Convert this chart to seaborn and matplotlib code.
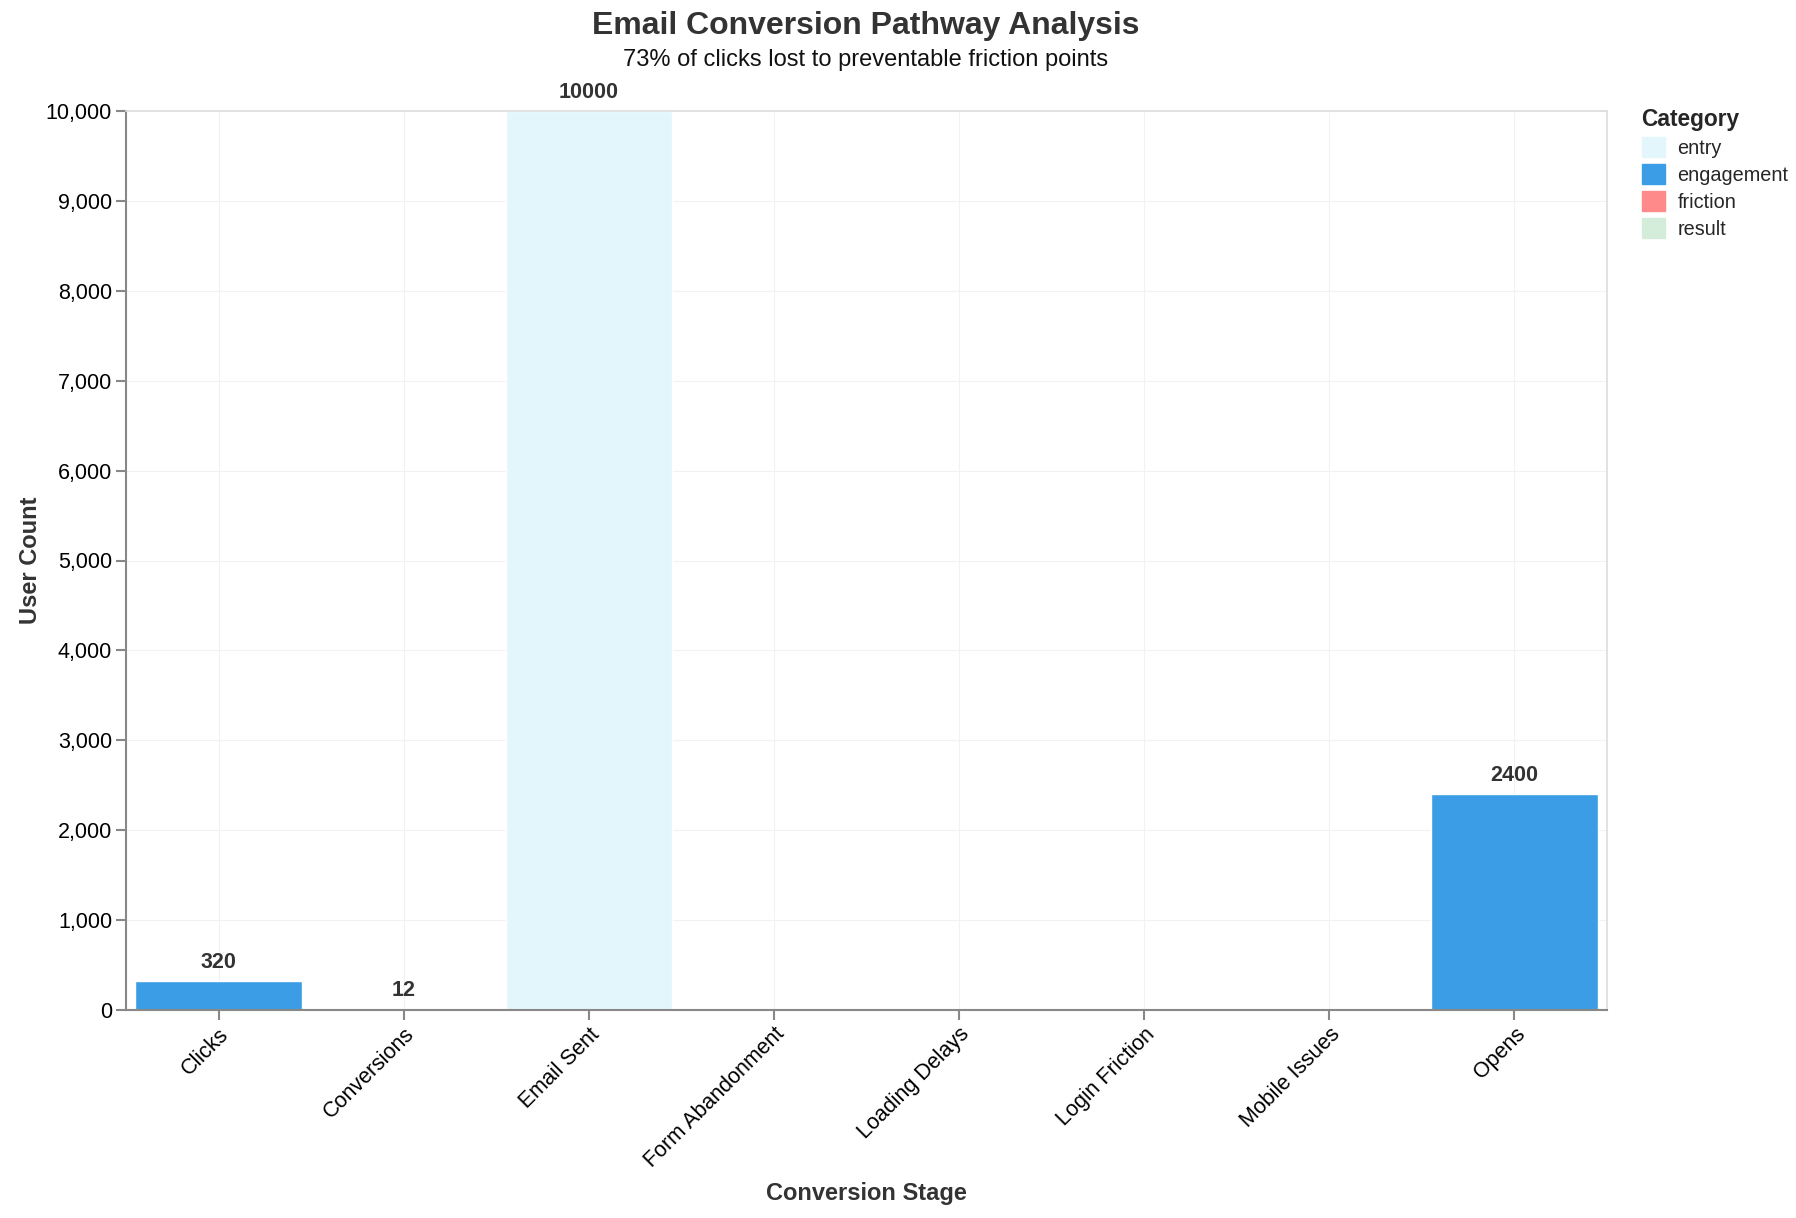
import pandas as pd
import matplotlib.pyplot as plt
import matplotlib.patches as mpatches
import seaborn as sns

# Data
stages = ["Clicks", "Conversions", "Email Sent", "Form Abandonment",
          "Loading Delays", "Login Friction", "Mobile Issues", "Opens"]
counts = [320, 12, 10000, 0, 0, 0, 0, 2400]
categories = ["engagement", "result", "entry", "friction",
              "friction", "friction", "friction", "engagement"]
show_label = [True, True, True, False, False, False, False, True]

category_order = ["entry", "engagement", "friction", "result"]
category_colors = {
    "entry": "#E3F6FC",
    "engagement": "#3B9DE6",
    "friction": "#FF8A8A",
    "result": "#D4EDDA",
}

df = pd.DataFrame({"stage": stages, "count": counts, "category": categories})

sns.set_theme(style="white")
plt.rcParams['font.family'] = ['Liberation Sans', 'DejaVu Sans']

fig = plt.figure(figsize=(17.96, 12.18), dpi=100)
ax = fig.add_axes([126 / 1796, 1 - 1010 / 1218, (1607 - 126) / 1796, (1010 - 111) / 1218])

sns.barplot(data=df, x="stage", y="count", hue="category", hue_order=category_order,
            palette=category_colors, dodge=False, width=0.9, ax=ax,
            legend=False, order=stages, saturation=1)

ax.set_ylim(0, 10000)
ax.set_xlim(-0.5, len(stages) - 0.5)
ax.set_yticks(range(0, 10001, 1000))
ax.set_yticklabels([f"{v:,}" for v in range(0, 10001, 1000)])

# value labels
for i, (v, show) in enumerate(zip(counts, show_label)):
    if show:
        ax.annotate(str(v), xy=(i, v), xytext=(0, 6), textcoords="offset points",
                    ha="center", va="bottom", fontsize=15.5, fontweight="bold", color="#333333")

ax.grid(True, color="#F2F2F2", linewidth=0.8)
ax.set_axisbelow(True)

for side in ["top", "right"]:
    ax.spines[side].set_color("#DDDDDD")
    ax.spines[side].set_linewidth(1.2)
for side in ["left", "bottom"]:
    ax.spines[side].set_color("#888888")
    ax.spines[side].set_linewidth(1.5)

ax.tick_params(axis="both", which="both", length=7, width=1.5, color="#888888",
               labelsize=15.5, labelcolor="#000000", bottom=True, left=True, pad=3)
plt.setp(ax.get_xticklabels(), rotation=45, ha="right", rotation_mode="anchor")

ax.set_xlabel("Conversion Stage", fontsize=17, fontweight="bold", color="#333333", labelpad=7)
ax.set_ylabel("User Count", fontsize=17, fontweight="bold", color="#333333", labelpad=3)

fig.text(866 / 1796, 1 - 26 / 1218, "Email Conversion Pathway Analysis", ha="center", va="center",
         fontsize=23, fontweight="bold", color="#333333")
fig.text(866 / 1796, 1 - 60 / 1218, "73% of clicks lost to preventable friction points", ha="center",
         va="center", fontsize=17, color="#111111")

handles = [mpatches.Patch(color=category_colors[c], label=c) for c in category_order]
leg = ax.legend(handles=handles, title="Category", loc="upper left",
                bbox_to_anchor=(1.018, 1.012), frameon=False, fontsize=14.3,
                handlelength=1.2, handleheight=1.2, handletextpad=0.6,
                labelspacing=0.3, borderaxespad=0.0, alignment="left")
leg.get_title().set_fontweight("bold")
leg.get_title().set_fontsize(16.4)

fig.savefig("out.png", dpi=100)
